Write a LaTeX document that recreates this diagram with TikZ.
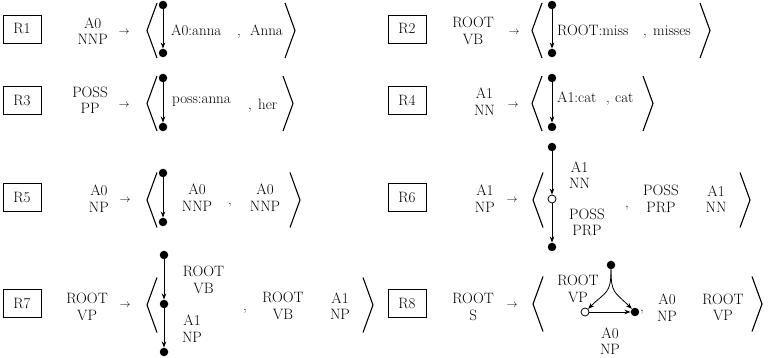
\documentclass[tikz,border=0pt]{standalone}
\usetikzlibrary{arrows.meta}
\begin{document}
\begin{tikzpicture}[x=1pt,y=-1pt,
  every node/.style={inner sep=0pt, font=\fontsize{15}{16.5}\selectfont},
  rbox/.style={draw, line width=0.8pt, minimum width=38pt, minimum height=28pt},
  lab/.style={align=center},
  arr/.style={font=\fontsize{11}{13}\selectfont},
  fdot/.style={circle, fill=black, minimum size=8.5pt},
  odot/.style={circle, draw, fill=white, line width=0.8pt, minimum size=8pt},
  conn/.style={line width=0.8pt, -{Stealth[length=6pt,width=4.5pt]}},
  brk/.style={line width=1.1pt, line join=miter}]
\useasboundingbox (0,0) rectangle (774,358);

% angle brackets
\foreach \tx/\cy in {147/30.5, 532/30.5, 147/103.5, 532/103.5, 147/200, 533/200, 147/305, 533/304}
  \draw[brk] (\tx+10,\cy-27.5) -- (\tx,\cy) -- (\tx+10,\cy+27.5);
\foreach \tx/\cy in {295/30.5, 710/30.5, 293/103.5, 653/103.5, 300/200, 750/200, 373/305, 762/304}
  \draw[brk] (\tx-10,\cy-27.5) -- (\tx,\cy) -- (\tx-10,\cy+27.5);

% R1
\node[rbox] (r1) at (22,29) {R1};
\node[lab, anchor=east] (r1l) at (108,31) {A0\\NNP};
\node[arr] (r1a) at (124,32) {$\rightarrow$};
\node[fdot] (r1d1) at (163,5) {};
\node[fdot] (r1d2) at (163,53) {};
\draw[conn] (r1d1) -- (r1d2);
\node[anchor=base west] (r1t) at (171,36) {A0:anna};
\node[anchor=base] (r1c) at (239,36) {,};
\node[anchor=base west] (r1u) at (250,36) {Anna};

% R2
\node[rbox] (r2) at (407,29) {R2};
\node[lab, anchor=east] (r2l) at (494,31) {ROOT\\VB};
\node[arr] (r2a) at (514,32) {$\rightarrow$};
\node[fdot] (r2d1) at (552,5) {};
\node[fdot] (r2d2) at (552,53) {};
\draw[conn] (r2d1) -- (r2d2);
\node[anchor=base west] (r2t) at (557,35.5) {ROOT:miss};
\node[anchor=base] (r2c) at (645,35.5) {,};
\node[anchor=base west] (r2u) at (653,35.5) {misses};

% R3
\node[rbox] (r3) at (22,100.5) {R3};
\node[lab, anchor=east] (r3l) at (108,100.5) {POSS\\PP};
\node[arr] (r3a) at (124,105) {$\rightarrow$};
\node[fdot] (r3d1) at (163,78) {};
\node[fdot] (r3d2) at (163,127) {};
\draw[conn] (r3d1) -- (r3d2);
\node[anchor=base west] (r3t) at (172,103.5) {poss:anna};
\node[anchor=base] (r3c) at (250,109.5) {,};
\node[anchor=base west] (r3u) at (258,110) {her};

% R4
\node[rbox] (r4) at (407,100.5) {R4};
\node[lab, anchor=east] (r4l) at (495,101.5) {A1\\NN};
\node[arr] (r4a) at (513,105) {$\rightarrow$};
\node[fdot] (r4d1) at (552,78) {};
\node[fdot] (r4d2) at (552,127) {};
\draw[conn] (r4d1) -- (r4d2);
\node[anchor=base west] (r4t) at (557,103) {A1:cat};
\node[anchor=base] (r4c) at (608,103) {,};
\node[anchor=base west] (r4u) at (615,103) {cat};

% R5
\node[rbox] (r5) at (22,197) {R5};
\node[lab, anchor=east] (r5l) at (109,198.5) {A0\\NP};
\node[arr] (r5a) at (125,200) {$\rightarrow$};
\node[fdot] (r5d1) at (163,173) {};
\node[fdot] (r5d2) at (163,222) {};
\draw[conn] (r5d1) -- (r5d2);
\node[lab] (r5t) at (197,197.5) {A0\\NNP};
\node[anchor=base] (r5c) at (230,204.5) {,};
\node[lab] (r5u) at (265,197.5) {A0\\NNP};

% R6
\node[rbox] (r6) at (407,197) {R6};
\node[lab, anchor=east] (r6l) at (495,198.5) {A1\\NP};
\node[arr] (r6a) at (512,200) {$\rightarrow$};
\node[fdot] (r6d1) at (552,147) {};
\node[odot] (r6d2) at (552,199) {};
\node[fdot] (r6d3) at (552,247) {};
\draw[conn] (r6d1) -- (r6d2);
\draw[conn] (r6d2) -- (r6d3);
\node[lab] (r6t) at (579.5,175) {A1\\NN};
\node[lab] (r6s) at (587,222.5) {POSS\\PRP};
\node[anchor=base] (r6c) at (627,208) {,};
\node[lab] (r6u) at (661,199) {POSS\\PRP};
\node[lab] (r6v) at (716,199) {A1\\NN};

% R7
\node[rbox] (r7) at (22,303) {R7};
\node[lab, anchor=east] (r7l) at (108,307) {ROOT\\VP};
\node[arr] (r7a) at (125,305) {$\rightarrow$};
\node[fdot] (r7d1) at (164,255) {};
\node[fdot] (r7d2) at (164,304) {};
\node[fdot] (r7d3) at (164,352) {};
\draw[conn] (r7d1) -- (r7d2);
\draw[conn] (r7d2) -- (r7d3);
\node[lab] (r7t) at (203.5,280) {ROOT\\VB};
\node[lab] (r7s) at (192,328.5) {A1\\NP};
\node[anchor=base] (r7c) at (245,310) {,};
\node[lab] (r7u) at (283,306) {ROOT\\VB};
\node[lab] (r7v) at (340,306) {A1\\NP};

% R8
\node[rbox] (r8) at (407,303) {R8};
\node[lab, anchor=east] (r8l) at (494,307) {ROOT\\S};
\node[arr] (r8a) at (512,305) {$\rightarrow$};
\node[fdot] (r8d1) at (611,265) {};
\node[odot] (r8d2) at (585,312) {};
\node[fdot] (r8d3) at (635,312) {};
\draw[conn] (r8d1) to[out=-90,in=45,looseness=1.4] (r8d2);
\draw[conn] (r8d1) to[out=-90,in=135,looseness=1.4] (r8d3);
\draw[conn] (r8d2) -- (r8d3);
\node[lab] (r8t) at (578,289) {ROOT\\VP};
\node[lab] (r8s) at (610,341) {A0\\NP};
\node[anchor=base] (r8c) at (642,312) {,};
\node[lab] (r8u) at (667,307.5) {A0\\NP};
\node[lab] (r8v) at (723,307.5) {ROOT\\VP};
\end{tikzpicture}
\end{document}
